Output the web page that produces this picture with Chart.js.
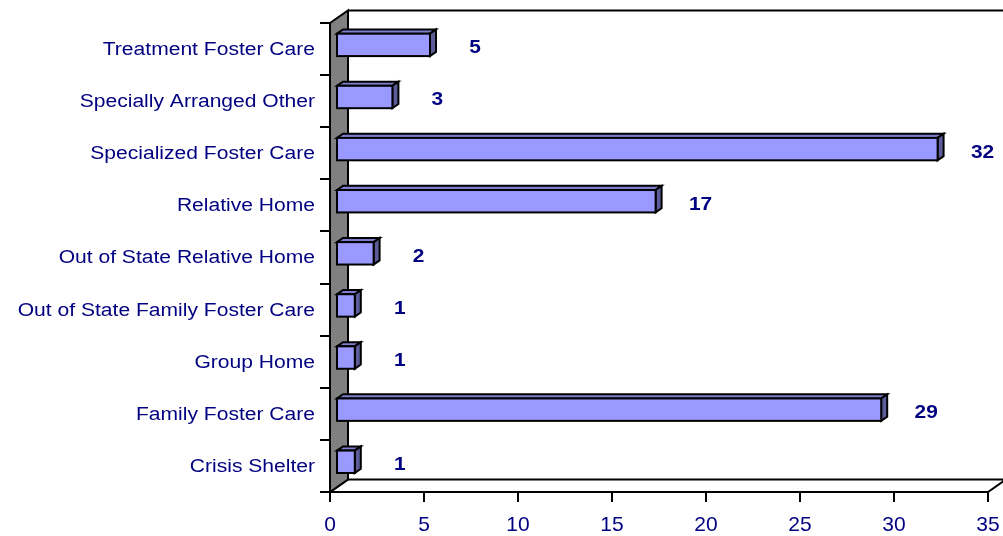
<!DOCTYPE html>
<html>
<head>
<meta charset="utf-8">
<script src="https://cdn.jsdelivr.net/npm/chart.js@4/dist/chart.umd.min.js"></script>
<style>
  html, body { margin: 0; padding: 0; background: #fff; }
  #wrap { width: 1003px; height: 536px; position: relative; }
</style>
</head>
<body>
<div id="wrap"><canvas id="myChart"></canvas></div>
<script>
const categories = [
  "Treatment Foster Care",
  "Specially Arranged Other",
  "Specialized Foster Care",
  "Relative Home",
  "Out of State Relative Home",
  "Out of State Family Foster Care",
  "Group Home",
  "Family Foster Care",
  "Crisis Shelter",
];
const placements = [5, 3, 32, 17, 2, 1, 1, 29, 1];
const xTicks = [0, 5, 10, 15, 20, 25, 30, 35];

const navy = "#000080";
const depth = { x: 18, y: -12.5 };
const stretch = 1.17;

// 3d look: wall, floor and boxy bars, drawn off the chart's own scales
const fake3d = {
  id: "fake3d",
  beforeDatasetsDraw(chart) {
    const { ctx, chartArea: a } = chart;
    ctx.save();
    ctx.lineWidth = 2;
    ctx.strokeStyle = "#000";
    ctx.lineJoin = "miter";
    // floor
    ctx.beginPath();
    ctx.moveTo(a.left, a.bottom);
    ctx.lineTo(a.left + depth.x, a.bottom + depth.y);
    ctx.lineTo(a.right + depth.x, a.bottom + depth.y);
    ctx.lineTo(a.right, a.bottom);
    ctx.closePath();
    ctx.fillStyle = "#fff";
    ctx.fill();
    ctx.stroke();
    // back top edge
    ctx.beginPath();
    ctx.moveTo(a.left + depth.x, a.top + depth.y);
    ctx.lineTo(a.right + depth.x, a.top + depth.y);
    ctx.stroke();
    // wall
    ctx.beginPath();
    ctx.moveTo(a.left, a.top);
    ctx.lineTo(a.left + depth.x, a.top + depth.y);
    ctx.lineTo(a.left + depth.x, a.bottom + depth.y);
    ctx.lineTo(a.left, a.bottom);
    ctx.closePath();
    ctx.fillStyle = "#808080";
    ctx.fill();
    ctx.stroke();
    ctx.restore();
  },
  afterDatasetsDraw(chart) {
    const { ctx } = chart;
    const meta = chart.getDatasetMeta(0);
    const ox = depth.x / 3, oy = depth.y / 3;
    const dx = depth.x / 3, dy = depth.y / 3;
    ctx.save();
    ctx.lineWidth = 2;
    ctx.strokeStyle = "#000";
    ctx.lineJoin = "miter";
    meta.data.forEach((bar, i) => {
      const p = bar.getProps(["x", "y", "base", "height"], true);
      const x0 = p.base + ox, x1 = p.x + ox;
      const y0 = p.y - p.height / 2 + oy, y1 = p.y + p.height / 2 + oy;
      // top
      ctx.beginPath();
      ctx.moveTo(x0, y0);
      ctx.lineTo(x0 + dx, y0 + dy);
      ctx.lineTo(x1 + dx, y0 + dy);
      ctx.lineTo(x1, y0);
      ctx.closePath();
      ctx.fillStyle = "#7d7dcc";
      ctx.fill();
      ctx.stroke();
      // side
      ctx.beginPath();
      ctx.moveTo(x1, y0);
      ctx.lineTo(x1 + dx, y0 + dy);
      ctx.lineTo(x1 + dx, y1 + dy);
      ctx.lineTo(x1, y1);
      ctx.closePath();
      ctx.fillStyle = "#5c5c99";
      ctx.fill();
      ctx.stroke();
      // front
      ctx.fillStyle = "#9999ff";
      ctx.fillRect(x0, y0, x1 - x0, y1 - y0);
      ctx.strokeRect(x0, y0, x1 - x0, y1 - y0);
      // value label
      ctx.save();
      ctx.translate(x1 + 45, p.y - 1);
      ctx.scale(1.1, 1);
      ctx.font = "bold 19px 'Liberation Sans', Arial, sans-serif";
      ctx.fillStyle = navy;
      ctx.textAlign = "center";
      ctx.textBaseline = "middle";
      ctx.fillText(String(placements[i]), 0, 0);
      ctx.restore();
    });
    ctx.restore();
  },
  afterDraw(chart) {
    const { ctx, chartArea: a } = chart;
    const yScale = chart.scales.y;
    ctx.save();
    ctx.font = "18px 'Liberation Sans', Arial, sans-serif";
    ctx.fillStyle = navy;
    ctx.textAlign = "right";
    ctx.textBaseline = "middle";
    categories.forEach((c, i) => {
      ctx.save();
      ctx.translate(a.left - 15, yScale.getPixelForTick(i) + 1);
      ctx.scale(stretch, 1);
      ctx.fillText(c, 0, 0);
      ctx.restore();
    });
    ctx.restore();
  },
};

new Chart(document.getElementById("myChart"), {
  type: "bar",
  data: {
    labels: categories,
    datasets: [{
      data: placements,
      backgroundColor: "rgba(0,0,0,0)",
      borderWidth: 0,
      barPercentage: 0.43,
      categoryPercentage: 1,
    }],
  },
  options: {
    indexAxis: "y",
    responsive: true,
    maintainAspectRatio: false,
    animation: false,
    events: [],
    layout: { padding: { top: 23, right: 15, left: 0, bottom: 0 } },
    plugins: { legend: { display: false }, tooltip: { enabled: false } },
    scales: {
      x: {
        min: 0,
        max: 35,
        afterBuildTicks: (s) => { s.ticks = xTicks.map((v) => ({ value: v })); },
        afterFit: (s) => { s.height = 44; s.paddingLeft = 0; s.paddingRight = 0; },
        border: { display: false },
        grid: { drawOnChartArea: false, drawTicks: true, tickLength: 10, color: "#000", lineWidth: 2 },
        ticks: {
          color: navy,
          padding: 11,
          maxRotation: 0,
          font: { family: "'Liberation Sans', Arial, sans-serif", size: 21 },
        },
      },
      y: {
        afterFit: (s) => { s.width = 330; s.paddingTop = 0; s.paddingBottom = 0; },
        border: { display: false },
        grid: { offset: true, drawOnChartArea: false, drawTicks: true, tickLength: 10, color: "#000", lineWidth: 2 },
        ticks: { display: false },
      },
    },
  },
  plugins: [fake3d],
});
</script>
</body>
</html>
